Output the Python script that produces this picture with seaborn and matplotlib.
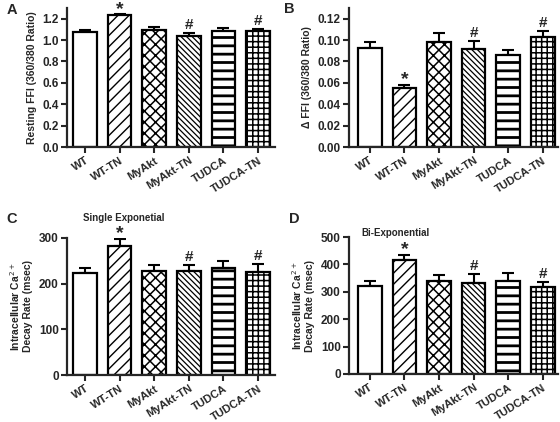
import matplotlib
matplotlib.use("Agg")
import matplotlib.pyplot as plt
import seaborn as sns
import pandas as pd
import numpy as np

groups = ["WT", "WT-TN", "MyAkt", "MyAkt-TN", "TUDCA", "TUDCA-TN"]
marks = ["", "*", "", "#", "", "#"]

a_mean = [1.072, 1.235, 1.09, 1.04, 1.089, 1.083]
a_err = [0.025, 0.006, 0.03, 0.022, 0.02, 0.018]
b_mean = [0.0925, 0.0553, 0.0985, 0.0916, 0.0859, 0.1026]
b_err = [0.006, 0.0031, 0.0082, 0.0078, 0.0047, 0.006]
c_mean = [223, 283, 228.6, 228, 233.6, 226]
c_err = [11.5, 15, 13, 13, 15.5, 16]
d_mean = [320.5, 415.6, 339.7, 333.6, 339.7, 317]
d_err = [19, 20.5, 21, 31, 30, 20]

hatches = ["", "///", "xxx", "\\\\\\\\\\\\", "--", "+++"]
hatch_lw = [1.0, 1.0, 1.1, 0.9, 2.0, 1.1]

sns.set_style("ticks")
plt.rcParams["font.family"] = ["Liberation Sans", "DejaVu Sans"]
plt.rcParams["hatch.linewidth"] = 1.0

fig = plt.figure(figsize=(5.6, 4.22), dpi=100)

W, H = 560.0, 422.0
def ax_at(l, r, t, b):
    return fig.add_axes([l / W, 1 - b / H, (r - l) / W, (b - t) / H])

panels = [
    dict(box=(67, 275, 8, 147), mean=a_mean, err=a_err, ylim=(0, 1.3), ticks=np.arange(0, 1.21, 0.2), fmt="{:.1f}",
         ylabel="Resting FFI (360/380 Ratio)", xlim=(-0.52, 5.49)),
    dict(box=(349, 558, 8, 147), mean=b_mean, err=b_err, ylim=(0, 0.13), ticks=np.arange(0, 0.121, 0.02), fmt="{:.2f}",
         ylabel="\u0394 FFI (360/380 Ratio)", xlim=(-0.6, 5.44)),
    dict(box=(67, 275, 238, 375), mean=c_mean, err=c_err, ylim=(0, 300), ticks=[0, 100, 200, 300], fmt="{:.0f}",
         ylabel="Intracellular Ca$^{2+}$\nDecay Rate (msec)", xlim=(-0.52, 5.49)),
    dict(box=(349, 558, 237, 374), mean=d_mean, err=d_err, ylim=(0, 500), ticks=[0, 100, 200, 300, 400, 500], fmt="{:.0f}",
         ylabel="Intracellular Ca$^{2+}$\nDecay Rate (msec)", xlim=(-0.6, 5.44)),
]

for p in panels:
    ax = ax_at(*p["box"])
    df = pd.DataFrame({"group": groups, "value": p["mean"]})
    sns.barplot(data=df, x="group", y="value", color="white", saturation=1, edgecolor="black",
                linewidth=1.6, width=0.68, errorbar=None, ax=ax, zorder=2)
    for patch, h, hl in zip(ax.patches, hatches, hatch_lw):
        patch.set_hatch(h)
        patch.set_facecolor("white")
        patch.set_edgecolor("black")
        if hasattr(patch, "set_hatch_linewidth"):
            patch.set_hatch_linewidth(hl)
    x = np.arange(len(groups))
    ax.errorbar(x, p["mean"], yerr=[np.zeros(len(groups)), p["err"]], fmt="none", ecolor="black",
                elinewidth=1.5, capsize=4.2, capthick=1.5, zorder=1)
    for xi, m, e, mk in zip(x, p["mean"], p["err"], marks):
        if mk == "*":
            ax.annotate(mk, (xi, m + e), xytext=(0, 5), textcoords="offset pixels",
                        ha="center", va="center", fontsize=14, fontweight="bold",
                        annotation_clip=False)
        elif mk == "#":
            ax.annotate(mk, (xi, m + e), xytext=(0, 8), textcoords="offset pixels",
                        ha="center", va="center", fontsize=11, fontweight="bold",
                        annotation_clip=False)
    ax.set_ylim(*p["ylim"])
    ax.set_xlim(*p["xlim"])
    ax.set_yticks(p["ticks"])
    ax.set_yticklabels([p["fmt"].format(t) for t in p["ticks"]], fontsize=8.5, fontweight="bold")
    ax.set_xticks(x)
    ax.set_xticklabels(groups, rotation=32, ha="right", rotation_mode="anchor", fontsize=8, fontweight="bold")
    ax.set_xlabel("")
    ax.set_ylabel(p["ylabel"], fontsize=7.5, fontweight="bold", labelpad=4)
    sns.despine(ax=ax)
    for s in ("left", "bottom"):
        ax.spines[s].set_linewidth(1.6)
    ax.tick_params(axis="both", direction="out", length=4, width=1.5, pad=2)
    ax.set_facecolor("white")

fig.text(7 / W, 1 - 10 / H, "A", fontsize=10.5, fontweight="bold", va="center", ha="left")
fig.text(284 / W, 1 - 9 / H, "B", fontsize=10.5, fontweight="bold", va="center", ha="left")
fig.text(6 / W, 1 - 219 / H, "C", fontsize=10.5, fontweight="bold", va="center", ha="left")
fig.text(289 / W, 1 - 219 / H, "D", fontsize=10.5, fontweight="bold", va="center", ha="left")
fig.text(124 / W, 1 - 218 / H, "Single Exponetial", fontsize=7, fontweight="bold", va="center", ha="center")
fig.text(395 / W, 1 - 233 / H, "Bi-Exponential", fontsize=7, fontweight="bold", va="center", ha="center")

fig.savefig("out.png", dpi=100, facecolor="white")
